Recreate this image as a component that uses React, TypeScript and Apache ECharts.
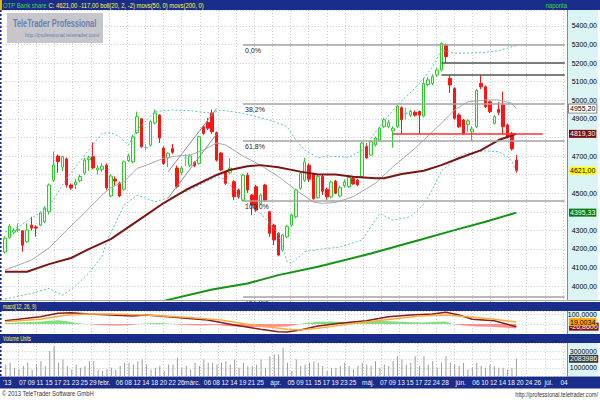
import React, { useEffect, useRef } from "react";
import * as echarts from "echarts";

// ---------- data ----------
const dates: string[] = [
  "2013.01.02","2013.01.03","2013.01.04","2013.01.07","2013.01.08","2013.01.09","2013.01.10","2013.01.11","2013.01.14","2013.01.15",
  "2013.01.16","2013.01.17","2013.01.18","2013.01.21","2013.01.22","2013.01.23","2013.01.24","2013.01.25","2013.01.28","2013.01.29",
  "2013.01.30","2013.01.31","2013.02.01","2013.02.04","2013.02.05","2013.02.06","2013.02.07","2013.02.08","2013.02.11","2013.02.12",
  "2013.02.13","2013.02.14","2013.02.15","2013.02.18","2013.02.19","2013.02.20","2013.02.21","2013.02.22","2013.02.25","2013.02.26",
  "2013.02.27","2013.02.28","2013.03.01","2013.03.04","2013.03.05","2013.03.06","2013.03.07","2013.03.08","2013.03.11","2013.03.12",
  "2013.03.13","2013.03.14","2013.03.18","2013.03.19","2013.03.20","2013.03.21","2013.03.22","2013.03.25","2013.03.26","2013.03.27",
  "2013.03.28","2013.04.02","2013.04.03","2013.04.04","2013.04.05","2013.04.08","2013.04.09","2013.04.10","2013.04.11","2013.04.12",
  "2013.04.15","2013.04.16","2013.04.17","2013.04.18","2013.04.19","2013.04.22","2013.04.23","2013.04.24","2013.04.25","2013.04.26",
  "2013.04.29","2013.04.30","2013.05.02","2013.05.03","2013.05.06","2013.05.07","2013.05.08","2013.05.09","2013.05.10","2013.05.13",
  "2013.05.14","2013.05.15","2013.05.16","2013.05.17","2013.05.21","2013.05.22","2013.05.23","2013.05.24","2013.05.27","2013.05.28",
  "2013.05.29","2013.05.30","2013.05.31","2013.06.03","2013.06.04","2013.06.05","2013.06.06","2013.06.07","2013.06.10","2013.06.11",
  "2013.06.12","2013.06.13","2013.06.14","2013.06.17","2013.06.18","2013.06.19","2013.06.20","2013.06.21","2013.06.24","2013.06.25",
  "2013.06.26","2013.06.27","2013.06.28","2013.07.01","2013.07.02","2013.07.03","2013.07.04","2013.07.05",
];

const dayTicks: [string, string][] = [
  ["2013.01.07","07"],["2013.01.09","09"],["2013.01.11","11"],["2013.01.15","15"],["2013.01.17","17"],["2013.01.21","21"],
  ["2013.01.23","23"],["2013.01.25","25"],["2013.01.29","29"],
  ["2013.02.06","06"],["2013.02.08","08"],["2013.02.12","12"],["2013.02.14","14"],["2013.02.18","18"],["2013.02.20","20"],
  ["2013.02.22","22"],["2013.02.26","26"],
  ["2013.03.06","06"],["2013.03.08","08"],["2013.03.12","12"],["2013.03.14","14"],["2013.03.19","19"],["2013.03.21","21"],["2013.03.25","25"],
  ["2013.04.05","05"],["2013.04.09","09"],["2013.04.11","11"],["2013.04.15","15"],["2013.04.17","17"],["2013.04.19","19"],
  ["2013.04.23","23"],["2013.04.25","25"],
  ["2013.05.07","07"],["2013.05.09","09"],["2013.05.13","13"],["2013.05.15","15"],["2013.05.17","17"],["2013.05.22","22"],
  ["2013.05.24","24"],["2013.05.28","28"],
  ["2013.06.06","06"],["2013.06.10","10"],["2013.06.12","12"],["2013.06.14","14"],["2013.06.18","18"],["2013.06.20","20"],
  ["2013.06.24","24"],["2013.06.26","26"],
  ["2013.07.04","04"],
];
const monthTicks: [string, string][] = [
  ["2013.01.02","'13"],["2013.02.01","febr."],["2013.03.01","márc."],["2013.04.02","ápr."],
  ["2013.05.02","máj."],["2013.06.03","jún."],["2013.07.01","júl."],
];

const opens = [
  4183,4262,4290,4300,4297,4239,4328,4318,4328,4345, 4400,4570,4700,4640,4684,4544,4545,4567,4608,4680,
  4696,4625,4628,4651,4485,4575,4555,4521,4675,4669, 4825,4900,4745,4759,4878,4920,4743,4690,4740,4635,
  4610,4690,4650,4665,4660,4858,4880,4932,4825,4716, 4615,4610,4562,4517,4462,4597,4490,4535,4445,4544,
  4400,4328,4284,4194,4265,4328,4373,4527,4570,4650, 4600,4475,4590,4520,4480,4565,4485,4540,4535,4580,
  4570,4590,4750,4705,4760,4787,4858,4858,4835,4858, 4960,4930,4920,4935,4940,4915,5085,5091,5136,5163,
  5298,5118,5064,4921,4894,4870,4830,4858,5091,5073, 4992,4876,4950,4975,4867,4822,4678,
];
const closes = [
  4258,4323,4300,4306,4220,4302,4312,4312,4393,4420, 4544,4651,4670,4697,4544,4528,4560,4590,4678,4690,
  4636,4635,4645,4528,4592,4565,4485,4669,4700,4804, 4912,4750,4745,4885,4932,4797,4660,4715,4720,4535,
  4635,4690,4700,4648,4804,4822,4850,4831,4678,4625, 4553,4635,4481,4481,4597,4517,4436,4409,4490,4462,
  4284,4248,4167,4275,4320,4382,4517,4607,4669,4575, 4470,4590,4510,4480,4560,4500,4530,4560,4585,4550,
  4545,4770,4690,4777,4797,4850,4895,4880,4850,4966, 4895,4930,4940,4920,4920,5090,5110,5127,5163,5307,
  5235,5082,4903,4858,4822,4890,4845,5054,5073,4965, 4939,4912,4935,4858,4804,4738,4621,
];
const lows = [
  4175,4255,4280,4290,4185,4232,4300,4265,4322,4338, 4385,4560,4610,4620,4530,4518,4522,4558,4598,4620,
  4628,4600,4615,4518,4478,4540,4478,4512,4668,4660, 4818,4745,4730,4750,4870,4770,4652,4640,4712,4525,
  4598,4645,4640,4640,4655,4815,4840,4820,4670,4618, 4545,4600,4462,4470,4455,4500,4382,4400,4435,4455,
  4265,4220,4160,4185,4258,4320,4365,4518,4562,4560, 4465,4470,4490,4465,4472,4495,4478,4530,4528,4545,
  4538,4585,4685,4700,4752,4780,4850,4850,4745,4850, 4819,4895,4910,4912,4819,4908,5075,5080,5125,5155,
  5200,5039,4895,4850,4815,4830,4780,4850,5060,4958, 4930,4870,4920,4819,4795,4730,4610,
];
const highs = [
  4268,4335,4312,4338,4302,4338,4373,4328,4402,4430, 4552,4723,4708,4702,4692,4552,4578,4600,4690,4702,
  4772,4650,4662,4660,4602,4590,4562,4676,4712,4815, 4939,4905,4765,4892,4950,4925,4752,4720,4765,4648,
  4645,4710,4712,4672,4810,4862,4905,4950,4832,4722, 4620,4690,4570,4525,4605,4610,4495,4545,4498,4550,
  4405,4335,4290,4282,4330,4390,4525,4615,4690,4660, 4610,4598,4600,4530,4568,4572,4540,4575,4592,4590,
  4578,4778,4770,4785,4805,4858,4905,4895,4860,4975, 4968,4960,4948,4945,4945,5120,5125,5140,5175,5312,
  5305,5135,5070,4930,4900,4898,4860,5060,5135,5080, 4998,4920,4990,5047,4875,4830,4705,
];
const volumes = [
  1400000,1600000,1000000,800000,1200000,1600000,800000,1400000,1800000,1200000,
  3000000,3600000,1600000,2000000,1200000,800000,1400000,1000000,1200000,1800000,
  1800000,800000,600000,800000,1000000,800000,1200000,1600000,1600000,1400000,
  1800000,2000000,1400000,800000,1000000,1200000,600000,1400000,1400000,2200000,
  1000000,1200000,800000,1600000,1200000,2000000,1600000,1600000,1400000,1600000,
  1800000,1400000,2000000,1000000,1600000,1200000,1200000,1400000,2000000,1000000,
  2400000,2600000,2600000,3400000,1600000,600000,2000000,1200000,1400000,1600000,
  1800000,1600000,1200000,600000,1000000,1000000,1200000,1600000,1200000,800000,
  1200000,1600000,1400000,1200000,1800000,1000000,1400000,1200000,1800000,2400000,
  2000000,1400000,1600000,2400000,1200000,2400000,1400000,1800000,1000000,1600000,
  2400000,1600000,1400000,1200000,1600000,800000,1000000,1600000,1200000,1000000,
  1400000,1200000,1000000,1000000,800000,1000000,2083986,
];

// indicator lines: [dayIndex, value]
const bollUpper: [number, number][] = [
  [0,4290],[3,4319],[10,4427],[14,4580],[19,4732],[22,4822],[24,4826],[26,4804],[28,4759],[30,4840],[34,4939],
  [38,4948],[42,4944],[47,4930],[49,4948],[54,4930],[60,4894],[64,4858],[66,4786],[68,4732],[71,4690],[73,4700],
  [78,4693],[81,4732],[85,4858],[89,4975],[93,5064],[95,5118],[97,5181],[99,5271],[102,5253],[108,5256],[112,5267],[116,5295],
];
const bollMid: [number, number][] = [
  [0,4086],[6,4140],[10,4205],[14,4301],[18,4393],[22,4490],[24,4530],[27,4562],[30,4634],[32,4650],[36,4688],
  [39,4700],[42,4705],[45,4732],[48,4770],[50,4760],[54,4700],[58,4650],[62,4590],[66,4517],[70,4452],[72,4445],
  [75,4450],[79,4481],[84,4553],[88,4642],[93,4741],[95,4786],[99,4876],[102,4948],[105,4992],[109,5002],[112,5002],
  [115,4984],[116,4955.2],
];
const bollLower: [number, number][] = [
  [0,3930],[6,3960],[10,3988],[13,3950],[16,4000],[19,4070],[22,4160],[23,4235],[27,4436],[30,4490],[34,4454],
  [38,4481],[42,4517],[48,4590],[50,4575],[54,4463],[58,4391],[62,4284],[64,4131],[65,4122],[68,4185],[71,4197],
  [76,4210],[81,4248],[85,4391],[88,4355],[92,4373],[95,4440],[97,4520],[99,4620],[102,4678],[104,4711],[109,4728],
  [112,4723],[114,4696],[115,4670],[116,4615],
];
const ma50: [number, number][] = [
  [0,4077],[5,4077],[10,4118],[15,4151],[19,4199],[24,4253],[27,4301],[32,4382],[36,4447],[41,4517],[48,4598],
  [51,4625],[55,4645],[58,4651],[62,4640],[67,4616],[71,4600],[75,4600],[79,4589],[84,4580],[86,4580],[90,4603],
  [95,4621],[99,4651],[103,4688],[108,4732],[112,4786],[116,4819.3],
];
const ma200: [number, number][] = [
  [35,3915],[47,3982],[55,4014],[62,4059],[71,4104],[83,4175],[94,4248],[102,4301],[109,4346],[116,4395.33],
];
const macdLine: [number, number][] = [
  [0,33],[3,47],[8,73],[12,107],[15,113],[19,100],[24,90],[29,80],[32,90],[37,73],[41,57],[46,40],[52,-10],
  [58,-53],[62,-77],[64,-80],[67,-60],[71,-20],[76,7],[82,33],[87,73],[92,90],[97,100],[100,117],[103,90],
  [106,47],[111,33],[116,-26.86],
];
const macdSignal: [number, number][] = [
  [0,23],[8,47],[14,90],[19,100],[24,100],[32,90],[41,67],[49,40],[56,-10],[64,-53],[67,-60],[71,-43],[78,0],
  [86,40],[94,80],[100,90],[105,73],[111,47],[116,19.0034],
];
const macdHist: [number, number][] = [
  [0,8],[3,14],[6,20],[9,28],[12,38],[14,28],[16,10],[18,2],[20,-4],[22,-12],[24,-14],[26,-16],[28,-12],[30,-2],
  [31,3],[33,8],[35,10],[37,6],[38,0],[40,-8],[42,-12],[44,-14],[46,-12],[48,-8],[50,-20],[53,-28],[56,-30],
  [59,-32],[62,-28],[64,-24],[66,-8],[67,2],[69,12],[71,22],[74,24],[77,20],[80,26],[83,30],[86,30],[89,24],
  [92,18],[95,14],[98,22],[100,24],[101,10],[102,-4],[104,-16],[107,-24],[110,-28],[113,-36],[116,-46],
];

const fibLevels: [string, number][] = [
  ["0,0%", 5300], ["38,2%", 4979], ["61,8%", 4781], ["100,0%", 4460], ["161,8%", 3941],
];
const fibStartDay = 54;
const resistanceLines: number[] = [5200, 5138];
const resistanceStartDay = 99;
const supportLevel = 4819;
const supportFromDay = 88;
const supportToDay = 122;
const channelLines: [number, number, number, number][] = [
  [37, 4615, 48, 4955],
  [37, 4474, 48, 4818],
];
const lastDay = 127;

// ---------- styling ----------
const NAVY = "#1b2d8a";
const FONT = "Liberation Sans, Arial, sans-serif";
const CYAN_BG = "#dbf5f5";

const MAIN = { top: 10, height: 290, min: 3925, max: 5486 };
const MACD = { top: 311, height: 23, min: -100, max: 130 };
const VOL = { top: 343, height: 33 };

const dayMap: Record<string, string> = Object.fromEntries(dayTicks);
const monthMap: Record<string, string> = Object.fromEntries(monthTicks);

const fmt2 = (v: number) => v.toFixed(2).replace(".", ",");
const fmt4 = (v: number) => v.toFixed(4).replace(".", ",");
const lastOf = (arr: [number, number][]) => arr[arr.length - 1][1];

function boxLabel(text: string, bg: string, fg: string, border?: string) {
  return {
    show: true,
    position: "end",
    distance: 2,
    formatter: text,
    backgroundColor: bg,
    color: fg,
    opacity: 1,
    borderColor: border || bg,
    borderWidth: border ? 1 : 0,
    padding: [0, 1, 0, 1],
    fontSize: 7,
    lineHeight: 8,
    fontFamily: FONT,
  };
}
const invisibleLine = { color: "rgba(0,0,0,0)", width: 0 };

function buildOption() {
  const candles = opens.map((o, i) => {
    const item: any = { value: [o, closes[i], lows[i], highs[i]] };
    if (o === closes[i]) {
      item.itemStyle = { color: "#33ccff", color0: "#33ccff", borderColor: "#33ccff", borderColor0: "#33ccff" };
    }
    return item;
  });

  const markData: any[] = [];
  fibLevels.forEach(([lbl, v]) => {
    markData.push([
      {
        coord: [fibStartDay, v],
        lineStyle: { color: "#a3a3a3", width: 1.5, type: "solid" },
        label: { show: true, formatter: lbl, position: "insideStartBottom", distance: 2, fontSize: 7, color: "#222", fontFamily: FONT },
      },
      { coord: [lastDay, v] },
    ]);
  });
  resistanceLines.forEach((v) => {
    markData.push([
      { coord: [resistanceStartDay, v], lineStyle: { color: "#555", width: 1.5, type: "solid" } },
      { coord: [lastDay, v] },
    ]);
  });
  markData.push([
    { coord: [supportFromDay, supportLevel], lineStyle: { color: "#ff3030", width: 1.5, type: "solid" } },
    { coord: [supportToDay, supportLevel] },
  ]);
  channelLines.forEach(([a, va, b, vb]) => {
    markData.push([
      { coord: [a, va], lineStyle: { color: "#8c8c8c", width: 1, type: "solid" } },
      { coord: [b, vb] },
    ]);
  });

  const lastClose = closes[closes.length - 1];
  // price labels that the value boxes cover are left out, as in the original
  const boxValues = [lastOf(ma50), lastClose, lastOf(ma200)];
  const covered = (v: number) => boxValues.some((b) => Math.abs(b - v) < 40);

  const rightLabel = (fn: (v: number) => string) => ({
    margin: 30,
    align: "right",
    fontSize: 7,
    color: "#000",
    fontFamily: FONT,
    showMinLabel: false,
    showMaxLabel: false,
    formatter: fn,
  });
  const dotted = { show: true, lineStyle: { color: "#cccccc", type: [1, 2] as any, width: 1 } };

  const lineSeries = (data: [number, number][], color: string, width: number, type: any) => ({
    type: "line",
    xAxisIndex: 0,
    yAxisIndex: 0,
    data,
    symbol: "none",
    lineStyle: { color, width, type },
    silent: true,
  });

  // value boxes in the right-hand scale (an unclipped helper series per panel)
  const boxSeries = (axisIndex: number, items: any[]) => ({
    type: "line",
    xAxisIndex: axisIndex,
    yAxisIndex: axisIndex,
    data: [],
    clip: false,
    silent: true,
    z: 10,
    markLine: {
      symbol: ["none", "none"], silent: true, animation: false, z: 10,
      data: items.map(([v, text, bg, fg, border]) => ({ yAxis: v, lineStyle: invisibleLine, label: boxLabel(text, bg, fg, border) })),
    },
  });

  // histogram fill: green above the MACD zero line, pink below it
  const zeroOffset = (MACD.max - 0) / (MACD.max - MACD.min);
  const histFill = {
    type: "linear", x: 0, y: MACD.top, x2: 0, y2: MACD.top + MACD.height, global: true,
    colorStops: [
      { offset: 0, color: "#7ee07e" }, { offset: zeroOffset, color: "#7ee07e" },
      { offset: zeroOffset, color: "#ff8e8e" }, { offset: 1, color: "#ff8e8e" },
    ],
  };

  const dateLabel = { interval: 0, margin: 3, fontSize: 6.5, color: "#f2f2f2", fontFamily: FONT };

  return {
    animation: false,
    textStyle: { fontFamily: FONT },
    grid: [
      { left: 2.8, top: MAIN.top, width: 564.5, height: MAIN.height },
      { left: 2.8, top: MACD.top, width: 564.5, height: MACD.height },
      { left: 2.8, top: VOL.top, width: 564.5, height: VOL.height },
      { left: -5.33, top: 10, width: 568.3, height: 366 },
    ],
    xAxis: [
      { gridIndex: 0, type: "category", data: dates, show: false },
      { gridIndex: 1, type: "category", data: dates, show: false },
      {
        gridIndex: 2, type: "category", data: dates, position: "bottom",
        axisLine: { show: false }, axisTick: { show: false }, splitLine: { show: false },
        axisLabel: { ...dateLabel, align: "left", formatter: (v: string) => dayMap[v] || "" },
      },
      {
        gridIndex: 2, type: "category", data: dates, position: "bottom",
        axisLine: { show: false }, axisTick: { show: false }, splitLine: { show: false },
        axisLabel: { ...dateLabel, align: "center", padding: [0, 0, 0, 3], formatter: (v: string) => monthMap[v] || "" },
      },
      {
        gridIndex: 3, type: "value", min: 0, max: 31, interval: 1,
        axisLine: { show: false }, axisTick: { show: false }, axisLabel: { show: false },
        splitLine: dotted,
      },
    ],
    yAxis: [
      {
        gridIndex: 0, type: "value", position: "right", min: MAIN.min, max: MAIN.max, splitNumber: 16,
        axisLine: { show: true, lineStyle: { color: "#8a8a8a" } }, axisTick: { show: false },
        axisLabel: rightLabel((v: number) => (v % 100 === 0 && !covered(v) ? fmt2(v) : "")),
        splitLine: dotted,
      },
      {
        gridIndex: 1, type: "value", position: "right", min: MACD.min, max: MACD.max, interval: 100,
        axisLine: { show: true, lineStyle: { color: "#8a8a8a" } }, axisTick: { show: false },
        axisLabel: rightLabel((v: number) => (v === 100 ? fmt4(v) : "")),
        splitLine: dotted,
      },
      {
        gridIndex: 2, type: "value", position: "right", min: 0, max: 4000000, interval: 1000000,
        axisLine: { show: true, lineStyle: { color: "#8a8a8a" } }, axisTick: { show: false },
        axisLabel: rightLabel((v: number) => (v === 1000000 || v === 3000000 ? String(v) : "")),
        splitLine: dotted,
      },
      { gridIndex: 3, type: "value", show: false },
    ],
    series: [
      {
        type: "candlestick",
        xAxisIndex: 0,
        yAxisIndex: 0,
        data: candles,
        barWidth: 3,
        silent: true,
        itemStyle: { color: "#e4ffe4", color0: "#ff1414", borderColor: "#2ccc2c", borderColor0: "#ff1414", borderWidth: 1 },
        markLine: { symbol: ["none", "none"], silent: true, animation: false, label: { show: false }, data: markData },
      },
      lineSeries(bollUpper, "#5cc4c4", 1, [2, 2]),
      lineSeries(bollLower, "#5cc4c4", 1, [2, 2]),
      lineSeries(bollMid, "#a8a8a8", 1, "solid"),
      lineSeries(ma50, "#7e1414", 2, "solid"),
      lineSeries(ma200, "#139413", 2, "solid"),
      {
        type: "line", xAxisIndex: 1, yAxisIndex: 1, data: macdHist, symbol: "none", silent: true,
        lineStyle: { width: 0 }, areaStyle: { opacity: 1, color: histFill },
      },
      {
        type: "line", xAxisIndex: 1, yAxisIndex: 1, data: macdLine, symbol: "none", silent: true,
        lineStyle: { color: "#8a1c1c", width: 1.5 },
      },
      {
        type: "line", xAxisIndex: 1, yAxisIndex: 1, data: macdSignal, symbol: "none", silent: true,
        lineStyle: { color: "#ffab40", width: 1.5 },
      },
      {
        type: "bar", xAxisIndex: 2, yAxisIndex: 2, data: volumes, barWidth: 1, silent: true,
        itemStyle: { color: "#9c9c9c" },
      },
      boxSeries(0, [
        [lastOf(bollMid), fmt2(lastOf(bollMid)), "#ffffff", "#000", "#888"],
        [lastOf(ma50), fmt2(lastOf(ma50)), "#7a0c0c", "#fff"],
        [lastClose, fmt2(lastClose), "#ffff00", "#000"],
        [lastOf(ma200), fmt2(lastOf(ma200)), "#0b7a0b", "#fff"],
      ]),
      boxSeries(1, [
        [lastOf(macdLine), fmt4(lastOf(macdLine)), "#8a1010", "#fff"],
        [lastOf(macdSignal), fmt4(lastOf(macdSignal)), "#ffa500", "#000"],
      ]),
      boxSeries(2, [
        [volumes[volumes.length - 1], String(volumes[volumes.length - 1]), "#3c3c3c", "#fff"],
      ]),
    ],
    graphic: [
      { type: "rect", z: -100, shape: { x: 568, y: 10, width: 30, height: 290 }, style: { fill: CYAN_BG } },
      { type: "rect", z: -100, shape: { x: 568, y: 311, width: 30, height: 23 }, style: { fill: CYAN_BG } },
      { type: "rect", z: -100, shape: { x: 568, y: 343, width: 30, height: 33 }, style: { fill: CYAN_BG } },
      { type: "rect", z: -100, shape: { x: 0, y: 376.5, width: 600, height: 12 }, style: { fill: NAVY } },
      { type: "line", z: 100, shape: { x1: 0, y1: 300.5, x2: 600, y2: 300.5 }, style: { stroke: "#a8a8a8", lineWidth: 1 } },
      { type: "rect", z: 100, shape: { x: 0, y: 0, width: 600, height: 10 }, style: { fill: NAVY } },
      { type: "rect", z: 101, shape: { x: 0, y: 0, width: 2, height: 10 }, style: { fill: "#e8b400" } },
      { type: "rect", z: 100, shape: { x: 0, y: 302, width: 600, height: 9 }, style: { fill: NAVY } },
      { type: "rect", z: 100, shape: { x: 0, y: 334, width: 600, height: 9 }, style: { fill: NAVY } },
      { type: "line", z: 100, shape: { x1: 0.8, y1: 10, x2: 0.8, y2: 376 }, style: { stroke: NAVY, lineWidth: 1.6, lineDash: [2, 2] } },
      {
        type: "text", z: 102, x: 3, y: 1, scaleX: 0.74,
        style: {
          text: "{g|OTP Bank share} {y|C: 4621,00 -117,00 boll(20, 2, -2) movs(50, 0) movs(200, 0)}",
          font: `8px ${FONT}`, verticalAlign: "top",
          rich: { g: { fill: "#3bdc3b", font: `8px ${FONT}` }, y: { fill: "#ffff3a", font: `8px ${FONT}` } },
        },
      },
      {
        type: "text", z: 102, x: 567, y: 1, scaleX: 0.74,
        style: { text: "naponta", fill: "#3bdc3b", font: `8px ${FONT}`, align: "right", verticalAlign: "top" },
      },
      {
        type: "text", z: 102, x: 3, y: 303, scaleX: 0.68,
        style: { text: "macd(12, 26, 9)", fill: "#ffff3a", font: `7px ${FONT}`, verticalAlign: "top" },
      },
      {
        type: "text", z: 102, x: 3, y: 335, scaleX: 0.68,
        style: { text: "Volume Units", fill: "#ffff3a", font: `7px ${FONT}`, verticalAlign: "top" },
      },
      { type: "rect", z: 50, shape: { x: 7, y: 13, width: 96, height: 30 }, style: { fill: "#c6c6cb" } },
      {
        type: "text", z: 51, x: 13, y: 19, scaleX: 0.74,
        style: { text: "TeleTrader Professional", fill: "#6b7fb0", font: `bold 10px ${FONT}`, verticalAlign: "top" },
      },
      {
        type: "text", z: 51, x: 25, y: 32, scaleX: 0.84,
        style: { text: "http://professional.teletrader.com/", fill: "#6b7fb0", font: `6px ${FONT}`, verticalAlign: "top" },
      },
      {
        type: "text", z: 102, x: 2, y: 390, scaleX: 0.84,
        style: { text: "© 2013 TeleTrader Software GmbH", fill: "#333", font: `7px ${FONT}`, verticalAlign: "top" },
      },
      {
        type: "text", z: 102, x: 598, y: 391, scaleX: 0.8,
        style: { text: "http://professional.teletrader.com/", fill: "#333", font: `7px ${FONT}`, align: "right", verticalAlign: "top" },
      },
    ],
  };
}

export default function App() {
  const ref = useRef<HTMLDivElement>(null);
  useEffect(() => {
    if (!ref.current) return;
    const chart = echarts.init(ref.current, undefined, { renderer: "svg", width: 600, height: 400 });
    chart.setOption(buildOption() as any);
    return () => chart.dispose();
  }, []);
  return (
    <div
      ref={ref}
      style={{ position: "fixed", left: 0, top: 0, width: 600, height: 400, background: "#ffffff" }}
    />
  );
}
